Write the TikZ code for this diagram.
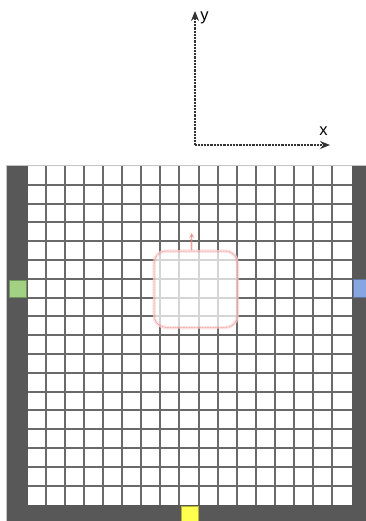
\documentclass[tikz,border=0pt]{standalone}
\usepackage{fontspec}
\setmainfont{Liberation Sans}
\usetikzlibrary{arrows.meta}
\definecolor{wallc}{HTML}{585858}
\definecolor{gridc}{HTML}{6A6A6A}
\definecolor{edgec}{HTML}{C4C4C4}
\definecolor{greenc}{HTML}{A2D183}
\definecolor{bluec}{HTML}{86A6E2}
\definecolor{yellowc}{HTML}{FFFF4D}
\definecolor{pinkc}{HTML}{EE7777}
\tikzset{
  axisline/.style={draw=black!80, line width=1.4pt, dash pattern=on 1pt off 0.45pt, -{Stealth[length=10pt,width=8pt]}},
  axislabel/.style={font=\fontsize{16.5}{16.5}\selectfont, inner sep=0pt, text=black},
  wall/.style={fill=wallc},
  gridline/.style={draw=gridc, line width=2pt},
  marker/.style={line width=0.5pt},
}
\begin{document}
\begin{tikzpicture}[x=1pt,y=-1pt]
\useasboundingbox (0,0) rectangle (366,521);
\clip (0,0) rectangle (366,521);
% axes
\coordinate (O) at (195,145);
\coordinate (Y) at (195,11);
\coordinate (X) at (330,145);
\draw[axisline] (O) -- (Y);
\draw[axisline] (O) -- (X);
\node[axislabel] (ylab) at (204.5,18) {y};
\node[axislabel] (xlab) at (323.5,131) {x};
% board
\fill[white] (28,166) rectangle (352,505);
\foreach \k in {1,...,16} {
  \draw[gridline] ({27+19.06*\k},165) -- ({27+19.06*\k},505);
}
\foreach \k in {1,...,17} {
  \draw[gridline] (27,{166+18.8*\k}) -- (352,{166+18.8*\k});
}
% walls
\fill[wall] (7,165) rectangle (28,530);
\fill[wall] (351.5,165) rectangle (380,530);
\fill[wall] (7,504.5) rectangle (380,530);
\draw[edgec, line width=0.8pt] (6.6,530) -- (6.6,165) -- (380,165);
% markers
\fill[greenc, draw=greenc!70!black, marker] (9,280) rectangle (26,297.5);
\fill[bluec, draw=bluec!70!black, marker] (353.5,279.5) rectangle (371,297.5);
\fill[yellowc, draw=yellowc!70!black, marker] (181.5,506.5) rectangle (198.5,524);
% highlighted region
\fill[white, opacity=0.72, rounded corners=12pt] (153,250) rectangle (238.5,328.5);
\draw[pinkc, opacity=0.18, line width=3.5pt, rounded corners=12pt] (154,251) rectangle (237.5,327.5);
\draw[pinkc, opacity=0.5, line width=1pt, dash pattern=on 1pt off 0.6pt, rounded corners=12pt] (154,251) rectangle (237.5,327.5);
\coordinate (A0) at (191.7,250);
\coordinate (A1) at (191.7,233);
\draw[pinkc, opacity=0.2, line width=2.5pt] (A0) -- (191.7,238);
\draw[pinkc, opacity=0.6, line width=0.8pt, -{Stealth[length=5pt,width=5pt]}] (A0) -- (A1);
\end{tikzpicture}
\end{document}
